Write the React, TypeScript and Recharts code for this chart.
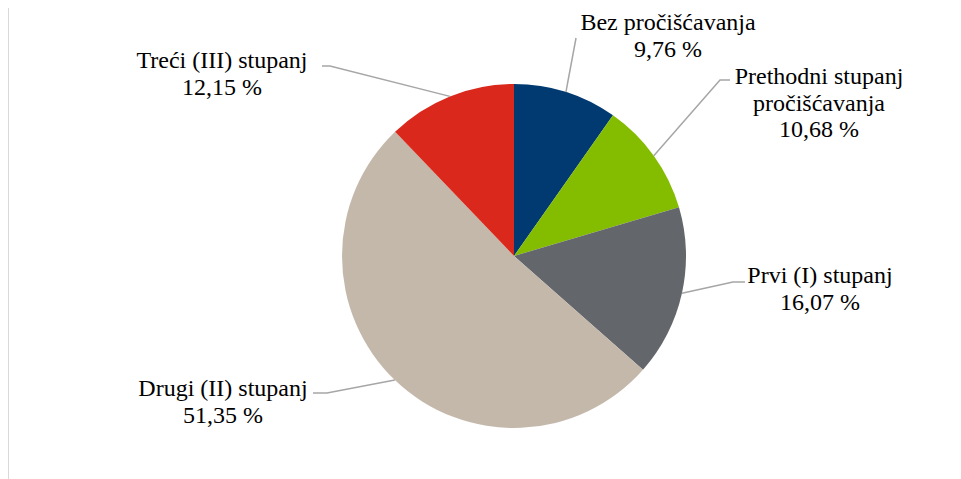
import React from 'react';
import { PieChart, Pie, Cell } from 'recharts';

const categories = ['Bez pročišćavanja', 'Prethodni stupanj pročišćavanja', 'Prvi (I) stupanj', 'Drugi (II) stupanj', 'Treći (III) stupanj'];
const values = [9.76, 10.68, 16.07, 51.35, 12.15];
const labelLines = [
    ['Bez pročišćavanja', '9,76 %'],
    ['Prethodni stupanj', 'pročišćavanja', '10,68 %'],
    ['Prvi (I) stupanj', '16,07 %'],
    ['Drugi (II) stupanj', '51,35 %'],
    ['Treći (III) stupanj', '12,15 %'],
];

const COLORS = ['#003A70', '#84BD00', '#63666A', '#C4B8AB', '#DA291C'];

// label layout relative to pie centre: text centre x, first line y, leader elbow and end
const LABEL_LAYOUT = [
    { tx: 154, ty: -234, elbow: [62, -218], end: [62, -218] },
    { tx: 305, ty: -180, elbow: [206, -176], end: [216, -176] },
    { tx: 306, ty: 19, elbow: [219, 26], end: [231, 26] },
    { tx: -291, ty: 132, elbow: [-187, 137], end: [-201, 137] },
    { tx: -292, ty: -196, elbow: [-184, -190], end: [-192, -190] },
];

const data = categories.map((name, i) => ({ name, value: values[i] }));

const RAD = Math.PI / 180;
const SERIF = '"Liberation Serif", "Times New Roman", serif';

const renderLabel = (props: any) => {
    const { cx, cy, midAngle, outerRadius, index } = props;
    const lay = LABEL_LAYOUT[index];
    const sx = cx + outerRadius * Math.cos(-midAngle * RAD);
    const sy = cy + outerRadius * Math.sin(-midAngle * RAD);
    const pts = `${sx},${sy} ${cx + lay.elbow[0]},${cy + lay.elbow[1]} ${cx + lay.end[0]},${cy + lay.end[1]}`;
    return (
        <g key={`lbl-${index}`}>
            <polyline points={pts} fill="none" stroke="#A6A6A6" strokeWidth={1.5} />
            <text
                x={cx + lay.tx}
                y={cy + lay.ty}
                textAnchor="middle"
                dominantBaseline="central"
                style={{ fontFamily: SERIF, fontSize: 24 }}
                fill="#000"
            >
                {labelLines[index].map((line, j) => (
                    <tspan key={j} x={cx + lay.tx} dy={j === 0 ? 0 : 26.5}>{line}</tspan>
                ))}
            </text>
        </g>
    );
};

const App: React.FC = () => {
    return (
        <div
            style={{
                marginTop: -3,
                width: 953,
                height: 474,
                borderTop: '1px solid #D9D9D9',
                borderLeft: '1px solid #D9D9D9',
                boxSizing: 'border-box',
                overflow: 'hidden',
                fontFamily: SERIF,
            }}
        >
            <PieChart width={952} height={473}>
                <Pie
                    data={data}
                    dataKey="value"
                    nameKey="name"
                    cx={500}
                    cy={245}
                    outerRadius={172}
                    startAngle={90}
                    endAngle={-270}
                    stroke="none"
                    label={renderLabel}
                    labelLine={false}
                    isAnimationActive={false}
                >
                    {data.map((entry, index) => (
                        <Cell key={`cell-${index}`} fill={COLORS[index % COLORS.length]} />
                    ))}
                </Pie>
            </PieChart>
        </div>
    );
};

export default App;
